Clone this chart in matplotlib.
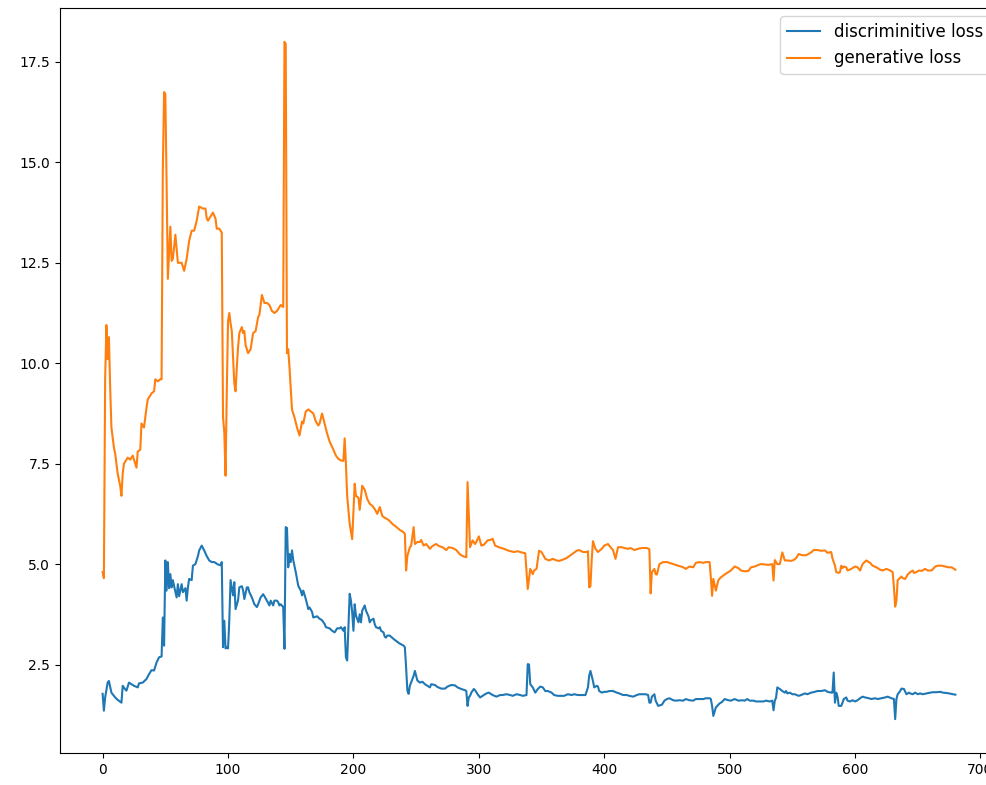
import matplotlib
matplotlib.use("Agg")
import matplotlib.pyplot as plt

# Discriminator loss per training step (sampled)
disc_steps = [0, 1, 2, 4, 5, 7, 10, 12, 15, 16, 18, 19, 21, 23, 25, 28, 29, 32, 35, 37, 39, 41, 43, 45, 47,
              48, 49, 50, 51, 52, 53, 54, 55, 56, 57, 59, 60, 61, 63, 64, 66, 67, 68, 69, 71, 72, 74, 76, 77,
              79, 81, 83, 85, 87, 89, 92, 94, 95, 96, 97, 98, 99, 100, 101, 102, 104, 105, 106, 108, 109, 111,
              112, 113, 115, 116, 117, 119, 121, 123, 124, 126, 128, 129, 131, 133, 134, 136, 137, 139, 140,
              141, 142, 144, 145, 146, 147, 148, 149, 150, 151, 152, 154, 156, 158, 159, 160, 162, 164, 165,
              167, 168, 171, 173, 175, 177, 178, 181, 183, 185, 187, 189, 190, 192, 193, 194, 195, 196, 197,
              198, 199, 200, 201, 202, 204, 205, 206, 207, 209, 210, 212, 213, 214, 216, 217, 218, 220, 221,
              222, 224, 225, 226, 227, 229, 230, 233, 234, 236, 237, 240, 241, 242, 243, 244, 245, 247, 248,
              249, 251, 253, 255, 257, 259, 261, 262, 265, 267, 270, 273, 275, 278, 281, 283, 286, 289, 290,
              291, 292, 293, 294, 296, 297, 299, 301, 303, 306, 308, 311, 314, 317, 319, 322, 325, 327, 330,
              333, 335, 338, 339, 340, 341, 343, 345, 347, 349, 351, 353, 355, 358, 360, 363, 366, 368, 371,
              374, 376, 379, 382, 385, 387, 388, 389, 391, 392, 394, 395, 396, 398, 400, 402, 404, 407, 410,
              412, 415, 418, 420, 423, 426, 428, 431, 433, 435, 436, 437, 438, 440, 441, 443, 446, 448, 450,
              452, 455, 457, 460, 463, 465, 468, 471, 473, 476, 479, 481, 484, 485, 486, 487, 489, 491, 492,
              494, 496, 499, 501, 504, 507, 510, 512, 514, 516, 519, 521, 524, 527, 529, 532, 534, 535, 536,
              537, 538, 540, 542, 544, 545, 546, 548, 550, 552, 555, 557, 560, 562, 565, 568, 570, 573, 576,
              578, 581, 582, 583, 584, 585, 586, 587, 589, 590, 591, 593, 594, 596, 598, 600, 602, 604, 606,
              608, 611, 613, 616, 618, 621, 624, 626, 629, 631, 632, 633, 634, 636, 637, 639, 641, 643, 644,
              646, 648, 650, 652, 654, 657, 660, 662, 665, 668, 670, 673, 675, 678, 680]
disc_loss = [1.77, 1.35, 1.68, 2.05, 2.09, 1.8, 1.68, 1.62, 1.55, 1.97, 1.88, 1.85, 2.05, 2.01, 1.97, 1.93,
             2.03, 2.05, 2.14, 2.26, 2.36, 2.35, 2.55, 2.68, 2.7, 3.67, 2.97, 5.09, 4.34, 5.05, 4.4, 4.75,
             4.42, 4.6, 4.45, 4.17, 4.5, 4.2, 4.5, 4.3, 4.4, 4.09, 4.42, 4.63, 4.6, 4.96, 5.0, 5.2, 5.34,
             5.46, 5.34, 5.2, 5.09, 5.05, 5.05, 4.99, 4.97, 5.05, 2.93, 3.59, 2.9, 2.93, 2.9, 3.6, 4.6, 4.22,
             4.55, 3.88, 4.1, 4.42, 4.45, 4.35, 4.13, 4.42, 4.42, 4.3, 4.17, 4.0, 3.93, 4.0, 4.17, 4.25, 4.2,
             4.09, 3.97, 4.09, 3.97, 4.09, 4.09, 4.05, 3.97, 4.0, 3.93, 2.89, 5.92, 5.9, 4.92, 5.25, 5.05,
             5.34, 5.1, 4.8, 4.46, 4.34, 4.22, 4.34, 4.13, 3.88, 3.92, 3.81, 3.67, 3.7, 3.64, 3.6, 3.51, 3.43,
             3.4, 3.34, 3.3, 3.4, 3.4, 3.43, 3.34, 3.43, 2.68, 2.6, 3.43, 4.26, 4.09, 3.8, 3.34, 4.0, 3.72,
             3.55, 3.75, 3.55, 3.84, 3.97, 3.84, 3.7, 3.55, 3.6, 3.64, 3.5, 3.43, 3.4, 3.43, 3.34, 3.3, 3.19,
             3.17, 3.22, 3.22, 3.19, 3.11, 3.09, 3.04, 3.02, 2.97, 2.93, 2.43, 1.85, 1.77, 1.97, 2.14, 2.22,
             2.34, 2.1, 2.05, 2.07, 2.01, 1.97, 1.93, 2.01, 1.99, 1.94, 1.9, 1.9, 1.95, 1.99, 1.98, 1.93,
             1.89, 1.86, 1.84, 1.47, 1.68, 1.72, 1.8, 1.89, 1.86, 1.76, 1.68, 1.72, 1.78, 1.8, 1.74, 1.7,
             1.74, 1.74, 1.76, 1.74, 1.72, 1.76, 1.74, 1.72, 1.74, 2.51, 2.5, 2.01, 1.93, 1.8, 1.89, 1.95,
             1.93, 1.84, 1.84, 1.8, 1.74, 1.72, 1.72, 1.72, 1.76, 1.74, 1.76, 1.74, 1.74, 1.74, 1.93, 2.22,
             2.34, 2.09, 1.93, 1.97, 1.95, 1.84, 1.8, 1.82, 1.82, 1.84, 1.84, 1.8, 1.78, 1.74, 1.74, 1.72,
             1.7, 1.74, 1.76, 1.76, 1.76, 1.74, 1.55, 1.55, 1.7, 1.76, 1.6, 1.47, 1.5, 1.6, 1.64, 1.66, 1.61,
             1.6, 1.61, 1.6, 1.64, 1.61, 1.6, 1.64, 1.64, 1.64, 1.66, 1.66, 1.64, 1.47, 1.22, 1.43, 1.5,
             1.53, 1.57, 1.64, 1.61, 1.6, 1.64, 1.6, 1.61, 1.6, 1.64, 1.6, 1.6, 1.58, 1.58, 1.58, 1.6, 1.58,
             1.6, 1.36, 1.6, 1.67, 1.93, 1.89, 1.84, 1.8, 1.84, 1.78, 1.8, 1.76, 1.76, 1.72, 1.74, 1.78,
             1.76, 1.8, 1.82, 1.84, 1.84, 1.86, 1.82, 1.8, 1.8, 2.3, 1.55, 1.8, 1.7, 1.47, 1.47, 1.55, 1.64,
             1.68, 1.6, 1.58, 1.61, 1.58, 1.61, 1.66, 1.7, 1.68, 1.66, 1.64, 1.66, 1.64, 1.66, 1.68, 1.7,
             1.66, 1.64, 1.14, 1.64, 1.76, 1.84, 1.9, 1.89, 1.76, 1.8, 1.78, 1.76, 1.8, 1.76, 1.78, 1.76,
             1.78, 1.8, 1.81, 1.81, 1.82, 1.8, 1.79, 1.78, 1.76, 1.75]

# Generator loss per training step (sampled)
gen_steps = [0, 1, 2, 3, 4, 5, 6, 7, 9, 10, 12, 14, 15, 16, 17, 18, 20, 22, 24, 26, 27, 28, 30, 31, 33, 35,
             36, 39, 41, 42, 44, 46, 47, 48, 49, 50, 51, 52, 54, 55, 56, 58, 60, 63, 65, 67, 69, 71, 73, 75,
             77, 80, 82, 83, 84, 86, 88, 90, 91, 93, 95, 96, 97, 98, 99, 100, 101, 102, 103, 105, 106, 107,
             108, 109, 111, 112, 113, 114, 116, 118, 120, 122, 124, 125, 127, 129, 131, 133, 135, 137, 139,
             140, 142, 144, 145, 146, 147, 148, 149, 151, 153, 155, 157, 159, 160, 162, 164, 166, 168, 170,
             172, 173, 175, 177, 179, 181, 184, 186, 188, 190, 192, 193, 194, 195, 197, 199, 200, 201, 202,
             204, 205, 207, 209, 211, 213, 215, 217, 219, 221, 223, 225, 227, 229, 231, 234, 237, 240, 241,
             242, 243, 245, 246, 248, 249, 251, 253, 254, 256, 258, 261, 263, 266, 268, 271, 274, 276, 279,
             282, 285, 287, 290, 291, 292, 293, 295, 297, 298, 300, 302, 304, 307, 309, 311, 313, 316, 320,
             324, 328, 331, 334, 337, 338, 339, 341, 343, 344, 346, 348, 350, 353, 356, 359, 362, 364, 367,
             370, 374, 378, 380, 383, 386, 387, 388, 389, 390, 391, 393, 395, 398, 400, 403, 405, 407, 409,
             411, 414, 416, 419, 421, 424, 427, 430, 434, 436, 437, 438, 440, 441, 442, 444, 447, 450, 452,
             455, 457, 460, 463, 465, 468, 471, 473, 476, 479, 481, 484, 485, 486, 487, 489, 491, 493, 496,
             499, 501, 504, 507, 509, 512, 515, 517, 520, 523, 525, 528, 531, 534, 535, 536, 538, 540, 542,
             544, 546, 549, 551, 553, 555, 558, 561, 565, 567, 570, 573, 576, 578, 581, 582, 584, 585, 587,
             588, 589, 590, 591, 593, 594, 597, 600, 602, 604, 606, 609, 612, 614, 617, 620, 622, 625, 628,
             630, 631, 632, 633, 634, 637, 638, 640, 642, 644, 646, 647, 649, 651, 653, 656, 658, 661, 664,
             666, 669, 672, 674, 677, 679, 680]
gen_loss = [4.8, 4.65, 9.6, 10.95, 10.1, 10.65, 9.4, 8.4, 7.9, 7.75, 7.25, 6.95, 6.7, 7.25, 7.5, 7.55, 7.65,
            7.6, 7.7, 7.5, 7.4, 7.8, 7.85, 8.5, 8.4, 8.9, 9.1, 9.25, 9.3, 9.6, 9.55, 9.6, 9.6, 14.8, 16.75,
            16.7, 14.5, 12.1, 13.4, 12.55, 12.6, 13.2, 12.5, 12.5, 12.3, 12.6, 13.05, 13.3, 13.3, 13.55,
            13.9, 13.85, 13.85, 13.6, 13.55, 13.65, 13.75, 13.6, 13.35, 13.35, 13.25, 8.65, 8.3, 7.2, 9.3,
            11.05, 11.25, 11.0, 10.8, 9.5, 9.3, 9.9, 10.4, 10.75, 10.9, 10.75, 10.8, 10.45, 10.25, 10.35,
            10.75, 10.8, 11.15, 11.2, 11.7, 11.5, 11.5, 11.45, 11.3, 11.25, 11.3, 11.35, 11.45, 11.4, 18.0,
            17.95, 10.25, 10.35, 9.9, 8.85, 8.65, 8.4, 8.2, 8.55, 8.5, 8.8, 8.85, 8.8, 8.75, 8.55, 8.45, 8.5,
            8.75, 8.5, 8.25, 8.05, 7.85, 7.7, 7.62, 7.58, 7.57, 8.13, 7.5, 6.7, 6.0, 5.62, 6.3, 7.0, 6.7,
            6.65, 6.35, 6.95, 6.85, 6.62, 6.5, 6.45, 6.37, 6.25, 6.42, 6.2, 6.15, 6.12, 6.07, 6.0, 5.93,
            5.85, 5.79, 5.75, 4.84, 5.2, 5.42, 5.45, 5.92, 5.5, 5.55, 5.55, 5.6, 5.46, 5.5, 5.38, 5.45, 5.5,
            5.45, 5.42, 5.35, 5.42, 5.4, 5.35, 5.24, 5.2, 5.17, 7.04, 6.25, 5.42, 5.59, 5.5, 5.55, 5.69,
            5.46, 5.48, 5.59, 5.6, 5.63, 5.46, 5.42, 5.38, 5.33, 5.3, 5.32, 5.29, 5.27, 4.84, 4.38, 4.88,
            4.75, 4.84, 4.88, 5.33, 5.3, 5.13, 5.09, 5.13, 5.09, 5.08, 5.11, 5.15, 5.24, 5.33, 5.35, 5.3,
            5.3, 5.32, 4.42, 4.45, 5.1, 5.57, 5.38, 5.3, 5.38, 5.46, 5.5, 5.42, 5.35, 5.13, 5.42, 5.42, 5.4,
            5.38, 5.4, 5.35, 5.38, 5.4, 5.4, 5.37, 4.27, 4.8, 4.88, 4.75, 4.74, 5.0, 5.05, 5.05, 5.03, 5.0,
            4.98, 4.95, 4.92, 4.88, 4.94, 4.92, 5.03, 5.05, 5.03, 5.05, 5.05, 4.67, 4.21, 4.63, 4.34, 4.6,
            4.67, 4.74, 4.8, 4.84, 4.94, 4.9, 4.84, 4.82, 4.83, 4.92, 4.94, 4.98, 5.0, 4.99, 4.98, 5.0,
            4.59, 5.1, 5.0, 5.0, 5.29, 5.09, 5.09, 5.08, 5.1, 5.15, 5.25, 5.22, 5.22, 5.29, 5.35, 5.35,
            5.33, 5.34, 5.28, 5.3, 5.14, 4.96, 4.8, 4.78, 4.8, 4.96, 4.9, 4.94, 4.92, 4.84, 4.88, 4.94,
            4.92, 4.84, 5.0, 5.09, 5.03, 4.96, 4.92, 4.86, 4.84, 4.88, 4.84, 4.8, 4.42, 3.94, 4.09, 4.6,
            4.69, 4.65, 4.63, 4.74, 4.8, 4.84, 4.78, 4.8, 4.84, 4.83, 4.88, 4.84, 4.84, 4.94, 4.96, 4.96,
            4.94, 4.92, 4.92, 4.88, 4.86]

fig = plt.figure(figsize=(9.87, 7.85), dpi=100)
# The axes box runs a little past the right edge of the canvas
ax = fig.add_axes([60 / 987, 32 / 785, 938 / 987, 745 / 785])

ax.plot(disc_steps, disc_loss, label="discriminitive loss")
ax.plot(gen_steps, gen_loss, label="generative loss")
ax.legend(loc="upper right", fontsize=12)
ax.spines["right"].set_visible(False)

fig.savefig("out.png", dpi=100)
